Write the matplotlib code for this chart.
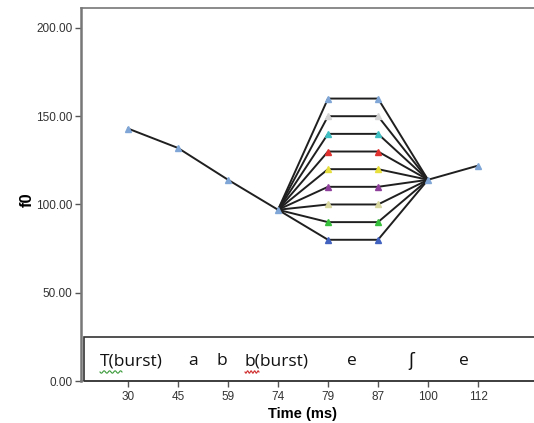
import matplotlib.pyplot as plt
import matplotlib.patches as patches
import numpy as np

# categorias del eje x (tiempo en ms) y valores de f0
tiempos = ['30', '45', '59', '74', '79', '87', '100', '112']
f0_inicio = [143, 132, 114, 97]      # 30, 45, 59, 74 ms
f0_final = [114, 122]                # 100, 112 ms
niveles = [160, 150, 140, 130, 120, 110, 100, 90, 80]   # f0 en 79 y 87 ms
colores = ['#7fa6d6', '#d4d4d4', '#3fbfc2', '#e0312f', '#e6df3c',
           '#8e3f9c', '#d9d8a0', '#35bf3a', '#4262c0']
segmentos = ['T(burst)', 'a', 'b', 'b(burst)', 'e', 'ʃ', 'e']
seg_px = [100, 188, 217, 245, 347, 408, 459]   # posicion en pixeles

W, H = 534, 423
fig = plt.figure(figsize=(W / 100, H / 100), dpi=100)
ax = fig.add_axes([81 / W, (H - 381) / H, (548 - 81) / W, (381 - 8) / H])

x = np.arange(len(tiempos))
linea = dict(color='#1f1f1f', linewidth=1.4, zorder=2)
marca = dict(marker='^', markersize=4.5, linestyle='none', zorder=3)
azul = '#7fa6d6'

# tramo comun inicial y final
ax.plot(x[:4], f0_inicio, **linea)
ax.plot(x[6:], f0_final, **linea)
for v, c in zip(niveles, colores):
    ax.plot([x[3], x[4], x[5], x[6]], [f0_inicio[-1], v, v, f0_final[0]], **linea)
    ax.plot([x[4], x[5]], [v, v], color=c, markeredgecolor=c, **marca)
ax.plot(x[:4], f0_inicio, color=azul, markeredgecolor=azul, **marca)
ax.plot(x[6:], f0_final, color=azul, markeredgecolor=azul, **marca)

ax.set_xlim(-0.94, 8.4)
ax.set_ylim(0, 211.3)
ax.set_xticks(x)
ax.set_xticklabels(tiempos)
ax.set_yticks([0, 50, 100, 150, 200])
ax.set_yticklabels([f'{v:.2f}' for v in [0, 50, 100, 150, 200]])
ax.tick_params(direction='out', length=4, width=1, color='#555555',
               labelsize=8.5, labelcolor='#333333')
ax.tick_params(axis='x', pad=3.5)
ax.tick_params(axis='y', pad=2)
for t in ax.get_xticklabels() + ax.get_yticklabels():
    t.set_family('Liberation Sans')
for s in ax.spines.values():
    s.set_color('#777777')
    s.set_linewidth(1.2)
ax.spines['left'].set_linewidth(1.8)

ax.set_xlabel('Time (ms)', fontsize=10.5, fontweight='bold', family='Liberation Sans')
ax.xaxis.set_label_coords((303 - 81) / (548 - 81), -0.07)
ax.set_ylabel('f0', fontsize=12, fontweight='bold', family='Liberation Sans')
ax.yaxis.set_label_coords((35 - 81) / (548 - 81), 0.485)

# recuadro con los segmentos
ax.add_patch(patches.Rectangle((3 / (548 - 81), 0), 1.1, 44 / 373,
                               transform=ax.transAxes, fill=False,
                               edgecolor='#333333', linewidth=1.2,
                               clip_on=False, zorder=4))
for s, px in zip(segmentos, seg_px):
    fig.text(px / W, (H - 361) / H, s, fontsize=12.5,
             family=['Open Sans', 'DejaVu Sans'],
             va='center', ha='left', color='#111111')

# subrayado ondulado del corrector
def onda(x0, x1, color):
    xx = np.linspace(x0, x1, 40)
    yy = 372 + 1.2 * np.sin((xx - x0) / (x1 - x0) * 2 * np.pi * 4)
    fig.add_artist(plt.Line2D(xx / W, (H - yy) / H, color=color, linewidth=0.8))

onda(100, 122, '#3a9a3a')
onda(245, 259, '#d03030')

fig.savefig('out.png', dpi=100)
